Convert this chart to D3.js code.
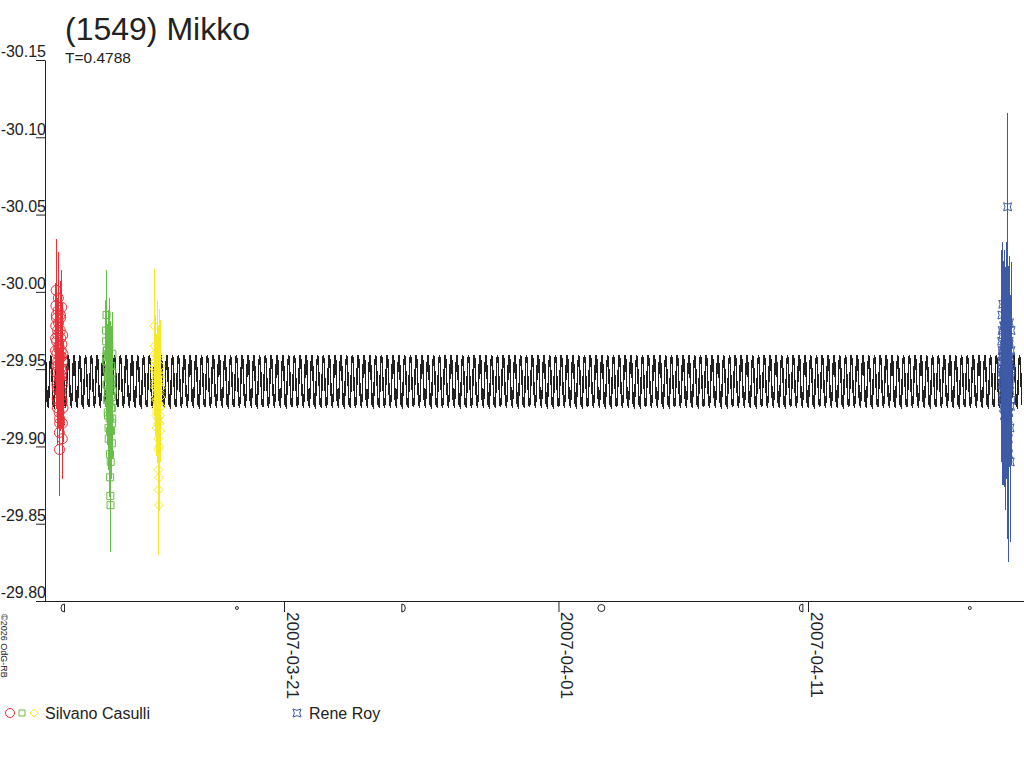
<!DOCTYPE html>
<html><head><meta charset="utf-8">
<script src="https://cdn.jsdelivr.net/npm/d3@7"></script>
<style>
html,body{margin:0;padding:0;background:#fff;}
svg{display:block;font-family:"Liberation Sans",Arial,sans-serif;}
</style></head>
<body>
<svg id="c" width="1024" height="768"></svg>
<script>
// ---------- data ----------
const title = "(1549) Mikko";
const subtitle = "T=0.4788";
const yTicks = [-30.15, -30.10, -30.05, -30.00, -29.95, -29.90, -29.85, -29.80];
const xTickDates = ["2007-03-21", "2007-04-01", "2007-04-11"];
const moonPhases = [
  {date: "2007-03-12T03:54Z", phase: "LQ"},
  {date: "2007-03-19T02:43Z", phase: "NM"},
  {date: "2007-03-25T18:16Z", phase: "FQ"},
  {date: "2007-04-02T17:15Z", phase: "FM"},
  {date: "2007-04-10T18:04Z", phase: "LQ"},
  {date: "2007-04-17T11:36Z", phase: "NM"}
];
// fitted light-curve model: one cycle shape (mag) and period (days)
const curveStart = "2007-03-11T10:00Z";
const curveEnd = "2007-04-19T14:00Z";
const curvePeriodDays = 0.2325;
const curveShape = [-29.959, -29.956, -29.940, -29.927, -29.926, -29.934, -29.952];

// Silvano Casulli, night 1 (red circles)
const redStart = "2007-03-11T20:00Z";
const redT = [0.010,0.018,0.026,0.034,0.042,0.050,0.058,0.066,0.074,0.082,0.090,0.098,0.106,0.114,0.122,0.130,0.138,0.146,0.154,0.162,0.170,0.178,0.186,0.194,0.202,0.210,0.218,0.226,0.234,0.242,0.250,0.258,0.266,0.274,0.282,0.290,
  0.014,0.030,0.046,0.062,0.078,0.094,0.110,0.126,0.142,0.158,0.174,0.190,0.206,0.222,0.238,0.254,0.270,0.286,0.294,0.298,0.302,0.306,0.310,0.314];
const redMag = [-29.962,-29.978,-29.991,-30.001,-29.985,-29.968,-29.952,-29.940,-29.931,-29.925,-29.937,-29.955,-29.972,-29.988,-29.996,-29.980,-29.963,-29.947,-29.922,-29.909,-29.898,-29.915,-29.944,-29.959,-29.975,-29.983,-29.970,-29.951,-29.933,-29.946,-29.958,-29.990,-29.966,-29.928,-29.905,-29.942,
  -29.970,-29.948,-29.983,-29.960,-29.938,-29.975,-29.952,-29.929,-29.965,-29.944,-29.918,-29.957,-29.985,-29.936,-29.962,-29.949,-29.930,-29.915,-29.955,-29.972,-29.940,-29.960,-29.925,-29.950];
const redErr = [0.012,0.018,0.015,0.033,0.020,0.014,0.022,0.016,0.019,0.024,0.013,0.017,0.021,0.015,0.030,0.018,0.025,0.014,0.020,0.027,0.030,0.022,0.016,0.019,0.023,0.017,0.026,0.018,0.021,0.015,0.020,0.024,0.017,0.022,0.026,0.019,
  0.018,0.022,0.016,0.025,0.019,0.021,0.027,0.017,0.023,0.020,0.024,0.018,0.022,0.026,0.016,0.028,0.020,0.023,0.019,0.021,0.025,0.017,0.022,0.018];

// Silvano Casulli, night 2 (green squares)
const greenStart = "2007-03-13T20:30Z";
const greenT = [0.010,0.018,0.026,0.034,0.042,0.050,0.058,0.066,0.074,0.082,0.090,0.098,0.106,0.114,0.122,0.130,0.138,0.146,0.154,0.162,0.170,0.178,0.186,0.194,0.202,0.210,0.218,0.226,0.234,0.242,0.250,0.258,
  0.014,0.030,0.046,0.062,0.078,0.094,0.110,0.126,0.142,0.158,0.174,0.190,0.206,0.222,0.238,0.254,0.262,0.266,0.270,0.274];
const greenMag = [-29.975,-29.968,-29.958,-29.985,-29.962,-29.950,-29.940,-29.955,-29.931,-29.922,-29.945,-29.960,-29.937,-29.912,-29.905,-29.928,-29.950,-29.966,-29.943,-29.918,-29.895,-29.880,-29.868,-29.862,-29.890,-29.910,-29.933,-29.952,-29.940,-29.925,-29.902,-29.915,
  -29.955,-29.940,-29.962,-29.930,-29.948,-29.920,-29.935,-29.958,-29.945,-29.928,-29.910,-29.938,-29.952,-29.925,-29.943,-29.932,-29.918,-29.948,-29.960,-29.936];
const greenErr = [0.020,0.025,0.018,0.029,0.022,0.016,0.019,0.024,0.015,0.021,0.017,0.023,0.018,0.026,0.020,0.015,0.022,0.030,0.019,0.024,0.028,0.031,0.027,0.030,0.025,0.018,0.021,0.026,0.017,0.020,0.023,0.019,
  0.024,0.020,0.028,0.022,0.026,0.019,0.025,0.030,0.021,0.027,0.023,0.024,0.029,0.020,0.025,0.022,0.026,0.021,0.027,0.024];

// Silvano Casulli, night 3 (yellow diamonds)
const yellowStart = "2007-03-15T19:00Z";
const yellowT = [0.010,0.018,0.026,0.034,0.042,0.050,0.058,0.066,0.074,0.082,0.090,0.098,0.106,0.114,0.122,0.130,0.138,0.146,0.154,0.162,0.170,0.178,0.186,0.194,0.202,0.210,0.218,0.226,0.234,0.242,0.250,0.258,
  0.014,0.030,0.046,0.062,0.078,0.094,0.110,0.126,0.142,0.158,0.174,0.190,0.206,0.222,0.238,0.254,0.262,0.266,0.270,0.274];
const yellowMag = [-29.978,-29.965,-29.952,-29.960,-29.948,-29.940,-29.955,-29.932,-29.925,-29.944,-29.938,-29.920,-29.912,-29.930,-29.948,-29.958,-29.942,-29.928,-29.918,-29.905,-29.898,-29.885,-29.872,-29.862,-29.880,-29.900,-29.915,-29.935,-29.946,-29.925,-29.910,-29.952,
  -29.950,-29.942,-29.938,-29.955,-29.930,-29.946,-29.922,-29.960,-29.935,-29.915,-29.948,-29.928,-29.940,-29.958,-29.920,-29.944,-29.932,-29.952,-29.926,-29.938];
const yellowErr = [0.037,0.022,0.018,0.026,0.020,0.016,0.024,0.019,0.015,0.021,0.017,0.023,0.018,0.020,0.025,0.030,0.019,0.022,0.016,0.021,0.024,0.020,0.026,0.032,0.022,0.018,0.021,0.017,0.023,0.019,0.020,0.018,
  0.026,0.022,0.028,0.030,0.024,0.027,0.025,0.034,0.022,0.026,0.029,0.023,0.028,0.031,0.024,0.027,0.025,0.030,0.022,0.026];

// Rene Roy (blue stars)
const blueStart = "2007-04-18T18:00Z";
const blueT = [0.010,0.018,0.026,0.034,0.042,0.050,0.058,0.066,0.074,0.082,0.090,0.098,0.106,0.114,0.122,0.130,0.138,0.146,0.154,0.162,0.170,0.178,0.186,0.194,0.202,0.210,0.218,0.226,0.234,0.242,0.250,0.258,0.266,0.274,0.282,0.290,0.298,0.306,0.314,0.322,0.330,0.338,0.346,0.354,0.362,0.370,0.378,0.386,0.394,0.402,
  0.014,0.022,0.030,0.038,0.046,0.054,0.062,0.070,0.078,0.086,0.094,0.102,0.110,0.118,0.126,0.134,0.142,0.150,0.158,0.166,0.174,0.182,0.190,0.198,0.206,0.214,0.222,0.230,0.238,0.246,0.254,0.262,0.270,0.278,0.286,0.294,0.302,0.310,0.318,0.326];
const blueMag = [-29.968,-29.985,-29.950,-29.975,-29.940,-29.960,-29.992,-29.945,-29.930,-29.955,-29.978,-29.962,-29.935,-29.948,-29.920,-29.938,-29.965,-29.982,-29.952,-29.925,-29.910,-29.942,-29.958,-29.970,-29.988,-29.946,-29.932,-29.915,-29.900,-29.928,-30.055,-29.955,-29.940,-29.918,-29.905,-29.895,-29.922,-29.948,-29.966,-29.980,-29.958,-29.936,-29.912,-29.890,-29.926,-29.944,-29.962,-29.975,-29.950,-29.930,
  -29.955,-29.940,-29.962,-29.930,-29.948,-29.972,-29.936,-29.958,-29.944,-29.925,-29.966,-29.950,-29.938,-29.978,-29.946,-29.928,-29.954,-29.942,-29.964,-29.932,-29.950,-29.918,-29.960,-29.945,-29.935,-29.970,-29.952,-29.940,-29.926,-29.958,-29.946,-29.934,-29.962,-29.948,-29.922,-29.956,-29.942,-29.968,-29.938,-29.952];
const blueErr = [0.035,0.042,0.038,0.050,0.033,0.045,0.040,0.048,0.036,0.052,0.039,0.044,0.058,0.037,0.046,0.041,0.049,0.034,0.055,0.043,0.047,0.038,0.051,0.036,0.044,0.040,0.053,0.039,0.060,0.045,0.061,0.042,0.048,0.037,0.050,0.070,0.041,0.046,0.035,0.043,0.049,0.038,0.056,0.052,0.040,0.047,0.036,0.044,0.039,0.042,
  0.045,0.050,0.042,0.055,0.048,0.052,0.046,0.058,0.044,0.050,0.054,0.047,0.060,0.049,0.053,0.045,0.057,0.051,0.048,0.055,0.046,0.059,0.050,0.044,0.056,0.048,0.052,0.047,0.058,0.045,0.053,0.049,0.055,0.046,0.057,0.050,0.048,0.054,0.051,0.047];

const legendItems = [
  {label: "Silvano Casulli", symbols: ["circle","square","diamond"]},
  {label: "Rene Roy", symbols: ["star"]}
];
const copyright = "\u00A92026 OdG-RB";

// ---------- styles ----------
const colors = {circle: "#ea3038", square: "#69bd4a", diamond: "#f6e92a", star: "#3e5aa7"};
const ink = "#222";

// ---------- scales ----------
const svg = d3.select("#c");
const plot = {left: 45, right: 1022, top: 60, bottom: 601};
const x = d3.scaleUtc()
  .domain([new Date("2007-03-21T00:00Z"), new Date("2007-04-11T00:00Z")])
  .range([284, 808]);
const y = d3.scaleLinear().domain([-30.15, -29.80]).range([plot.top, plot.bottom]);

svg.append("defs").append("clipPath").attr("id", "clip")
  .append("rect").attr("x", plot.left).attr("y", 0)
  .attr("width", plot.right - plot.left).attr("height", plot.bottom);

// ---------- title ----------
svg.append("text").attr("x", 65).attr("y", 40).attr("font-size", 32).attr("fill", ink).text(title);
svg.append("text").attr("x", 65).attr("y", 63).attr("font-size", 15.5).attr("fill", ink).text(subtitle);

// ---------- y axis ----------
const yAxis = d3.axisLeft(y).tickValues(yTicks).tickSize(9).tickSizeOuter(0)
  .tickPadding(-10).tickFormat(d => d.toFixed(2));
const gy = svg.append("g").attr("transform", `translate(${plot.left},0)`).call(yAxis);
gy.select(".domain").attr("stroke", ink);
gy.selectAll(".tick line").attr("stroke", ink);
gy.selectAll(".tick text").attr("dy", "-0.2em").attr("font-size", 16)
  .attr("fill", ink).attr("font-family", "Liberation Sans, Arial, sans-serif");

// ---------- x axis ----------
const xAxis = d3.axisBottom(x).tickValues(xTickDates.map(d => new Date(d + "T00:00Z")))
  .tickSize(11).tickSizeOuter(0).tickFormat(d3.utcFormat("%Y-%m-%d"));
const gx = svg.append("g").attr("transform", `translate(0,${plot.bottom})`).call(xAxis);
gx.select(".domain").attr("d", `M${plot.left - 9},0.5H1024`).attr("stroke", ink);
gx.selectAll(".tick line").attr("stroke", ink);
gx.selectAll(".tick text").attr("transform", "rotate(90)").attr("text-anchor", "start")
  .attr("x", 11).attr("y", -2).attr("dy", "0").attr("font-size", 17)
  .attr("fill", ink).attr("font-family", "Liberation Sans, Arial, sans-serif");

// ---------- moon phases ----------
const gm = svg.append("g").attr("stroke", ink).attr("fill", "none").attr("stroke-width", 1);
moonPhases.forEach(m => {
  const cx = x(new Date(m.date)), cy = 608;
  if (m.phase === "NM") {
    gm.append("circle").attr("cx", cx).attr("cy", cy).attr("r", 1.5);
  } else if (m.phase === "FM") {
    gm.append("circle").attr("cx", cx).attr("cy", cy).attr("r", 3.5);
  } else if (m.phase === "LQ") {
    gm.append("path").attr("d", `M${cx + 1},${cy - 4}V${cy + 4}A3.5,4 0 0 1 ${cx + 1},${cy - 4}`);
  } else {
    gm.append("path").attr("d", `M${cx - 1},${cy - 4}V${cy + 4}A3.5,4 0 0 0 ${cx - 1},${cy - 4}`);
  }
});

// ---------- copyright ----------
svg.append("text").attr("transform", "translate(1,614) rotate(90)").attr("font-size", 9)
  .attr("fill", ink).text(copyright);

// ---------- model curve ----------
const t0 = new Date(curveStart).getTime(), t1 = new Date(curveEnd).getTime();
const dayMs = 86400000;
const curvePts = [];
const nCycles = Math.ceil((t1 - t0) / (curvePeriodDays * dayMs));
for (let k = 0; k < nCycles; k++) {
  curveShape.forEach((m, j) => {
    const t = t0 + (k + j / curveShape.length) * curvePeriodDays * dayMs;
    if (t <= t1) curvePts.push([new Date(t), m]);
  });
}
svg.append("path").attr("clip-path", "url(#clip)")
  .attr("d", d3.line().x(d => x(d[0])).y(d => y(d[1]))(curvePts))
  .attr("fill", "none").attr("stroke", ink).attr("stroke-width", 1.5)
  .attr("shape-rendering", "crispEdges");

// ---------- data ----------
function symbolPath(type, s) {
  if (type === "square") return `M${-s},${-s}h${2 * s}v${2 * s}h${-2 * s}Z`;
  if (type === "diamond") return `M0,${-s}L${s},0L0,${s}L${-s},0Z`;
  if (type === "star") return `M${-s},${-s}Q0,${-s / 3} ${s},${-s}Q${s / 3},0 ${s},${s}Q0,${s / 3} ${-s},${s}Q${-s / 3},0 ${-s},${-s}Z`;
  return `M${s},0A${s},${s} 0 1 1 ${-s},0A${s},${s} 0 1 1 ${s},0Z`;
}
const symSize = {circle: 5, square: 3.5, diamond: 4.5, star: 4};

function drawSeries(start, ts, mags, errs, type) {
  const base = new Date(start).getTime();
  const pts = ts.map((t, i) => ({date: new Date(base + t * dayMs), mag: mags[i], err: errs[i]}));
  const g = svg.append("g").attr("clip-path", "url(#clip)");
  g.selectAll("line").data(pts).join("line")
    .attr("x1", d => x(d.date)).attr("x2", d => x(d.date))
    .attr("y1", d => y(d.mag - d.err)).attr("y2", d => y(d.mag + d.err))
    .attr("stroke", colors[type]).attr("stroke-width", 1)
    .attr("shape-rendering", "crispEdges");
  g.selectAll("path").data(pts).join("path")
    .attr("transform", d => `translate(${x(d.date)},${y(d.mag)})`)
    .attr("d", symbolPath(type, symSize[type]))
    .attr("fill", "none").attr("stroke", colors[type]).attr("stroke-width", 1);
}
drawSeries(redStart, redT, redMag, redErr, "circle");
drawSeries(greenStart, greenT, greenMag, greenErr, "square");
drawSeries(yellowStart, yellowT, yellowMag, yellowErr, "diamond");
drawSeries(blueStart, blueT, blueMag, blueErr, "star");

// ---------- legend ----------
const legendPos = [{x: 10, tx: 45}, {x: 297, tx: 309}];
legendItems.forEach((item, i) => {
  const lp = legendPos[i];
  item.symbols.forEach((s, j) => {
    svg.append("path").attr("transform", `translate(${lp.x + j * 12},713)`)
      .attr("d", symbolPath(s, s === "circle" ? 4.5 : s === "square" ? 3 : 4))
      .attr("fill", "none").attr("stroke", colors[s]).attr("stroke-width", 1);
  });
  svg.append("text").attr("x", lp.tx).attr("y", 719).attr("font-size", 16)
    .attr("fill", ink).text(item.label);
});
</script>
</body></html>
